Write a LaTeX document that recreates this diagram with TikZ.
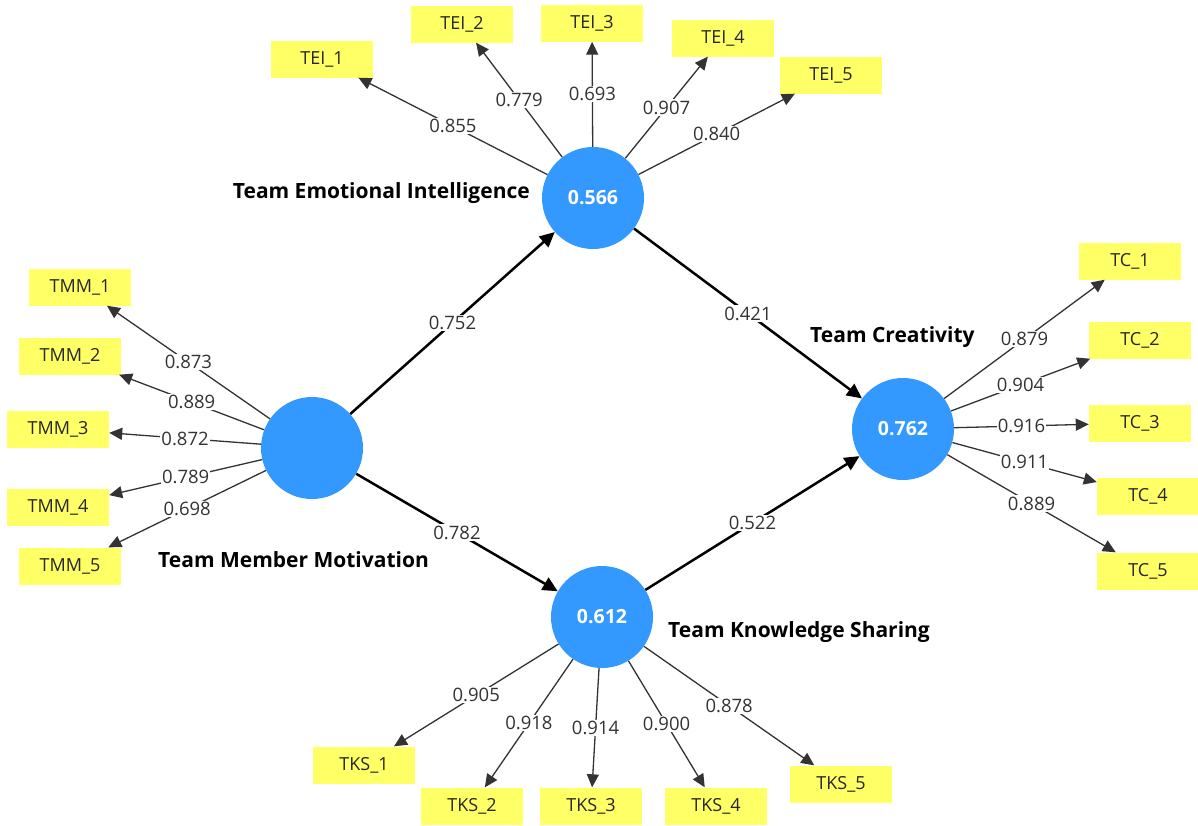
\documentclass[tikz,border=0pt]{standalone}
\usepackage{fontspec}
\setmainfont{Open Sans}
\usetikzlibrary{arrows.meta}
\definecolor{lvblue}{RGB}{51,153,255}
\definecolor{indyellow}{RGB}{255,255,102}
\begin{document}
\begin{tikzpicture}[x=1pt,y=-1pt,
  lv/.style={circle,fill=lvblue,inner sep=0pt,minimum size=102pt,text=white,font=\fontsize{19.5}{22}\selectfont\bfseries},
  ind/.style={rectangle,fill=indyellow,minimum width=102pt,minimum height=37pt,inner sep=0pt,font=\fontsize{18}{21}\selectfont,text=black!85},
  lab/.style={fill=white,inner sep=1.2pt,font=\fontsize{18.5}{21}\selectfont,text=black!80},
  lvname/.style={font=\fontsize{21}{25}\selectfont\bfseries,text=black,inner sep=0pt},
  load/.style={-{Triangle[length=13pt,width=12pt]},line width=1.3pt,draw=black!80},
  struct/.style={-{Triangle[length=15pt,width=14pt]},line width=2.5pt,draw=black},
]
\useasboundingbox (0,0) rectangle (1198,825);
\fill[white] (0,0) rectangle (1198,825);

% latent variables
\node[lv] (TEI) at (593,198) {0.566};
\node[lv] (TMM) at (312,448) {};
\node[lv] (TKS) at (602,617) {0.612};
\node[lv] (TC)  at (903,429) {0.762};

% names
\node[lvname,anchor=east] (nTEI) at (530,193) {Team Emotional Intelligence};
\node[lvname,anchor=west] (nTMM) at (158,560) {Team Member Motivation};
\node[lvname,anchor=west] (nTKS) at (668,632) {Team Knowledge Sharing};
\node[lvname,anchor=west] (nTC)  at (810,337) {Team Creativity};

% indicators
\node[ind] (TEI1) at (322,59) {TEI\_1};
\node[ind] (TEI2) at (462,24) {TEI\_2};
\node[ind] (TEI3) at (592,23) {TEI\_3};
\node[ind] (TEI4) at (723,38) {TEI\_4};
\node[ind] (TEI5) at (831,75) {TEI\_5};

\node[ind] (TMM1) at (80,287) {TMM\_1};
\node[ind] (TMM2) at (70,356) {TMM\_2};
\node[ind] (TMM3) at (58,429) {TMM\_3};
\node[ind] (TMM4) at (58,507) {TMM\_4};
\node[ind] (TMM5) at (70,566) {TMM\_5};

\node[ind] (TKS1) at (364,765) {TKS\_1};
\node[ind] (TKS2) at (472,806) {TKS\_2};
\node[ind] (TKS3) at (591,806) {TKS\_3};
\node[ind] (TKS4) at (716,806) {TKS\_4};
\node[ind] (TKS5) at (841,784) {TKS\_5};

\node[ind] (TC1) at (1130,261) {TC\_1};
\node[ind] (TC2) at (1140,340) {TC\_2};
\node[ind] (TC3) at (1140,423) {TC\_3};
\node[ind] (TC4) at (1148,496) {TC\_4};
\node[ind] (TC5) at (1148,571) {TC\_5};

% outer loadings
\draw[load] (TEI) -- node[lab]{0.855} (TEI1);
\draw[load] (TEI) -- node[lab]{0.779} (TEI2);
\draw[load] (TEI) -- node[lab]{0.693} (TEI3);
\draw[load] (TEI) -- node[lab]{0.907} (TEI4);
\draw[load] (TEI) -- node[lab]{0.840} (TEI5);

\draw[load] (TMM) -- node[lab]{0.873} (TMM1);
\draw[load] (TMM) -- node[lab]{0.889} (TMM2);
\draw[load] (TMM) -- node[lab]{0.872} (TMM3);
\draw[load] (TMM) -- node[lab]{0.789} (TMM4);
\draw[load] (TMM) -- node[lab]{0.698} (TMM5);

\draw[load] (TKS) -- node[lab]{0.905} (TKS1);
\draw[load] (TKS) -- node[lab]{0.918} (TKS2);
\draw[load] (TKS) -- node[lab]{0.914} (TKS3);
\draw[load] (TKS) -- node[lab]{0.900} (TKS4);
\draw[load] (TKS) -- node[lab]{0.878} (TKS5);

\draw[load] (TC) -- node[lab]{0.879} (TC1);
\draw[load] (TC) -- node[lab]{0.904} (TC2);
\draw[load] (TC) -- node[lab]{0.916} (TC3);
\draw[load] (TC) -- node[lab]{0.911} (TC4);
\draw[load] (TC) -- node[lab]{0.889} (TC5);

% structural paths
\draw[struct] (TMM) -- node[lab]{0.752} (TEI);
\draw[struct] (TMM) -- node[lab]{0.782} (TKS);
\draw[struct] (TEI) -- node[lab]{0.421} (TC);
\draw[struct] (TKS) -- node[lab]{0.522} (TC);
\end{tikzpicture}
\end{document}
